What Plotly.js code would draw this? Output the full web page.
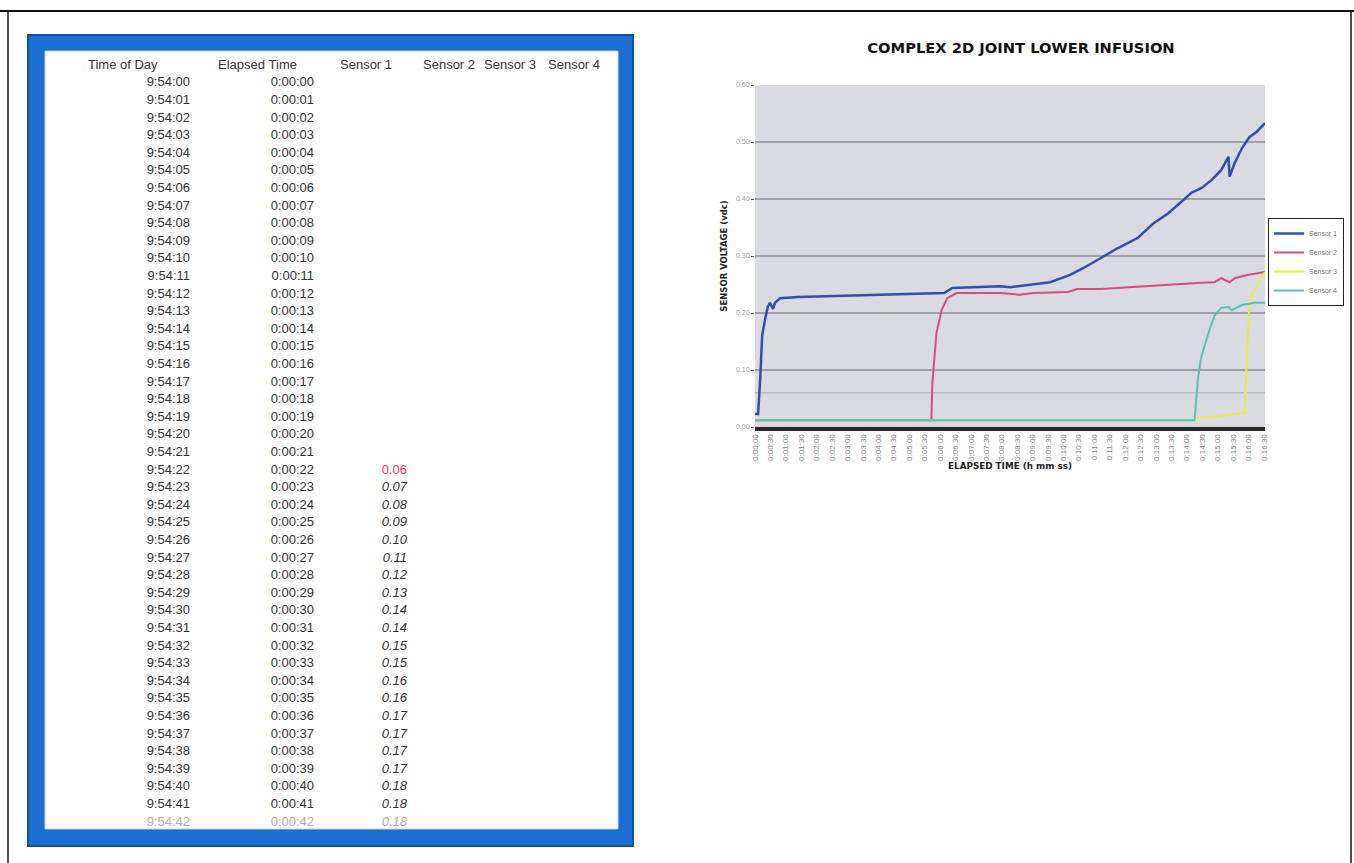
<!DOCTYPE html>
<html>
<head>
<meta charset="utf-8">
<script src="https://cdn.plot.ly/plotly-3.0.1.min.js"></script>
<style>html,body{margin:0;padding:0;background:#fff;}#chart{width:1354px;height:863px;}</style>
</head>
<body>
<div id="chart"></div>
<script>
// ---------------- table data ----------------
const tableHeaders = ['Time of Day', 'Elapsed Time', 'Sensor 1', 'Sensor 2', 'Sensor 3', 'Sensor 4'];
const timeOfDay = ['9:54:00','9:54:01','9:54:02','9:54:03','9:54:04','9:54:05','9:54:06','9:54:07','9:54:08','9:54:09',
  '9:54:10','9:54:11','9:54:12','9:54:13','9:54:14','9:54:15','9:54:16','9:54:17','9:54:18','9:54:19',
  '9:54:20','9:54:21','9:54:22','9:54:23','9:54:24','9:54:25','9:54:26','9:54:27','9:54:28','9:54:29',
  '9:54:30','9:54:31','9:54:32','9:54:33','9:54:34','9:54:35','9:54:36','9:54:37','9:54:38','9:54:39',
  '9:54:40','9:54:41','9:54:42'];
const elapsedTime = ['0:00:00','0:00:01','0:00:02','0:00:03','0:00:04','0:00:05','0:00:06','0:00:07','0:00:08','0:00:09',
  '0:00:10','0:00:11','0:00:12','0:00:13','0:00:14','0:00:15','0:00:16','0:00:17','0:00:18','0:00:19',
  '0:00:20','0:00:21','0:00:22','0:00:23','0:00:24','0:00:25','0:00:26','0:00:27','0:00:28','0:00:29',
  '0:00:30','0:00:31','0:00:32','0:00:33','0:00:34','0:00:35','0:00:36','0:00:37','0:00:38','0:00:39',
  '0:00:40','0:00:41','0:00:42'];
const sensor1Table = [null,null,null,null,null,null,null,null,null,null,
  null,null,null,null,null,null,null,null,null,null,
  null,null,0.06,0.07,0.08,0.09,0.10,0.11,0.12,0.13,
  0.14,0.14,0.15,0.15,0.16,0.16,0.17,0.17,0.17,0.17,
  0.18,0.18,0.18];
const sensor2Table = [];
const sensor3Table = [];
const sensor4Table = [];

// ---------------- chart data (elapsed seconds, volts) ----------------
const s1Time = [0, 6, 10, 14, 20, 25, 29, 35, 39, 49, 84, 130, 182, 230, 280, 330, 368, 384, 430, 476, 496, 535, 574, 613, 639, 672, 706, 745, 776, 804, 829, 849, 868, 888, 907, 921, 923, 933, 947, 962, 976, 992];
const s1Volt = [0.023, 0.023, 0.082, 0.161, 0.191, 0.211, 0.218, 0.207, 0.218, 0.226, 0.228, 0.229, 0.230, 0.231, 0.233, 0.234, 0.235, 0.244, 0.245, 0.247, 0.245, 0.250, 0.254, 0.267, 0.279, 0.296, 0.314, 0.332, 0.358, 0.375, 0.395, 0.411, 0.419, 0.433, 0.451, 0.474, 0.439, 0.463, 0.489, 0.509, 0.518, 0.533];
const s2Time = [0, 343, 345, 353, 363, 374, 392, 443, 476, 515, 541, 608, 627, 672, 737, 804, 868, 894, 907, 923, 933, 960, 992];
const s2Volt = [0.012, 0.012, 0.077, 0.165, 0.205, 0.226, 0.235, 0.235, 0.235, 0.232, 0.235, 0.237, 0.242, 0.242, 0.246, 0.249, 0.253, 0.254, 0.261, 0.254, 0.261, 0.267, 0.272];
const s3Time = [0, 855, 862, 901, 952, 962, 976, 992];
const s3Volt = [0.012, 0.012, 0.016, 0.019, 0.025, 0.223, 0.249, 0.272];
const s4Time = [0, 855, 862, 868, 882, 894, 907, 921, 927, 947, 972, 992];
const s4Volt = [0.012, 0.012, 0.088, 0.123, 0.165, 0.196, 0.209, 0.211, 0.205, 0.214, 0.218, 0.218];
const seriesNames = ['Sensor 1', 'Sensor 2', 'Sensor 3', 'Sensor 4'];
const seriesColors = ['#2f4fae', '#dc4a7c', '#e6ee3a', '#55c3b4'];
const xTickLabels = ['0:00:00','0:00:30','0:01:00','0:01:30','0:02:00','0:02:30','0:03:00','0:03:30','0:04:00','0:04:30',
  '0:05:00','0:05:30','0:06:00','0:06:30','0:07:00','0:07:30','0:08:00','0:08:30','0:09:00','0:09:30',
  '0:10:00','0:10:30','0:11:00','0:11:30','0:12:00','0:12:30','0:13:00','0:13:30','0:14:00','0:14:30',
  '0:15:00','0:15:30','0:16:00','0:16:30'];
const refLevel = 0.06;

// ---------------- helpers ----------------
const W = 1354, H = 863;
const px = x => x / W;
const py = y => 1 - y / H;
const toSec = s => { const p = s.split(':').map(Number); return p[0]*3600 + p[1]*60 + p[2]; };
const xTickVals = xTickLabels.map(toSec);
const nb = s => s.replace(/ /g, '\u00a0');   // keep headers on one line

const nRows = timeOfDay.length;
const pad = arr => timeOfDay.map((_, i) => (arr[i] === undefined || arr[i] === null) ? '' : String(arr[i]));
const firstIdx = sensor1Table.findIndex(v => v !== null);
const s1Disp = sensor1Table.map(v => v === null ? '' : v.toFixed(2));
const blank = timeOfDay.map(() => '');

const baseColor = '#333333', fadeColor = '#b0b0b0', redColor = '#e0395f';
const colColors = (special) => timeOfDay.map((_, i) => i === nRows - 1 ? fadeColor : (special && i === firstIdx ? redColor : baseColor));
const colStyle = (special) => timeOfDay.map((_, i) => (special && i !== firstIdx) ? 'italic' : 'normal');
const clear = 'rgba(255,255,255,0)';

const tableTrace = {
  type: 'table',
  domain: {x: [px(80), px(615)], y: [py(828.5), py(51)]},
  columnwidth: [118, 12, 112, 10, 83, 61, 64, 75],
  header: {
    values: [nb(tableHeaders[0]), '', nb(tableHeaders[1]), '', nb(tableHeaders[2]), nb(tableHeaders[3]), nb(tableHeaders[4]), nb(tableHeaders[5])],
    align: 'left', height: 17.6,
    fill: {color: clear}, line: {width: 0, color: clear},
    font: {family: 'Liberation Sans, Arial, sans-serif', size: 13, color: baseColor}
  },
  cells: {
    values: [timeOfDay, blank, elapsedTime, blank, s1Disp, pad(sensor2Table), pad(sensor3Table), pad(sensor4Table)],
    align: ['right', 'right', 'right', 'right', 'right', 'left', 'left', 'left'],
    height: 17.6,
    fill: {color: clear}, line: {width: 0, color: clear},
    font: {family: 'Liberation Sans, Arial, sans-serif', size: 13,
      color: [colColors(false), colColors(false), colColors(false), colColors(false), colColors(true), colColors(false), colColors(false), colColors(false)],
      style: [colStyle(false), colStyle(false), colStyle(false), colStyle(false), colStyle(true), colStyle(false), colStyle(false), colStyle(false)]}
  }
};

const lineTraces = [[s1Time, s1Volt], [s2Time, s2Volt], [s3Time, s3Volt], [s4Time, s4Volt]].map((d, k) => ({
  type: 'scatter', mode: 'lines', name: seriesNames[k], x: d[0], y: d[1],
  line: {color: seriesColors[k], width: k === 0 ? 2.5 : 2}
}));

const boldFont = 'DejaVu Sans, Liberation Sans, Arial, sans-serif';

const layout = {
  width: W, height: H,
  margin: {l: 0, r: 0, t: 0, b: 0},
  paper_bgcolor: '#ffffff', plot_bgcolor: '#dadae2',
  font: {family: 'Liberation Sans, Arial, sans-serif'},
  title: {text: 'COMPLEX 2D JOINT LOWER INFUSION', x: px(1021), xanchor: 'center', y: py(48), yanchor: 'middle',
    font: {family: boldFont, size: 14.7, weight: 'bold', color: '#111'}},
  xaxis: {domain: [px(755), px(1265)], range: [0, 992], tickvals: xTickVals, ticktext: xTickLabels,
    tickangle: -90, tickfont: {size: 8, color: '#888'}, showgrid: false, zeroline: false,
    showline: true, linewidth: 4, linecolor: '#2a2a2a', ticks: '',
    title: {text: 'ELAPSED TIME (h mm ss)', font: {family: boldFont, size: 8.8, weight: 'bold', color: '#222'}, standoff: 4}},
  yaxis: {domain: [py(427), py(85)], range: [0, 0.6], dtick: 0.1, tickformat: '.2f',
    tickfont: {size: 7, color: '#a0a0a0'}, gridcolor: '#a0a0a8', gridwidth: 1.3, zeroline: false,
    ticks: 'outside', ticklen: 3, tickcolor: '#666',
    title: {text: 'SENSOR VOLTAGE (vdc)', font: {family: boldFont, size: 8.5, weight: 'bold', color: '#222'}, standoff: 6}},
  legend: {x: px(1268), xanchor: 'left', y: py(218), yanchor: 'top', bgcolor: '#ffffff',
    bordercolor: '#222', borderwidth: 1, font: {size: 7, color: '#777'}},
  shapes: [
    // page border
    {type: 'line', xref: 'paper', yref: 'paper', x0: 0, x1: 1, y0: py(11), y1: py(11), line: {color: '#111', width: 2}},
    {type: 'line', xref: 'paper', yref: 'paper', x0: px(8), x1: px(8), y0: py(11), y1: 0, line: {color: '#111', width: 1.5}},
    {type: 'line', xref: 'paper', yref: 'paper', x0: px(1351), x1: px(1351), y0: py(11), y1: 0, line: {color: '#111', width: 1.5}},
    // blue frame around the table
    {type: 'rect', xref: 'paper', yref: 'paper', layer: 'below', x0: px(28), x1: px(633), y0: py(846), y1: py(35),
      fillcolor: '#1a6fd3', line: {color: '#0f4fa5', width: 2}},
    {type: 'rect', xref: 'paper', yref: 'paper', layer: 'below', x0: px(45), x1: px(618), y0: py(829), y1: py(51),
      fillcolor: '#ffffff', line: {color: '#c8d4e4', width: 1}},
    // faint reference line inside the chart
    {type: 'line', xref: 'x', yref: 'y', layer: 'below', x0: 0, x1: 992, y0: refLevel, y1: refLevel,
      line: {color: '#a8a8b0', width: 1}}
  ]
};

Plotly.newPlot('chart', [tableTrace].concat(lineTraces), layout, {displayModeBar: false, staticPlot: true});
</script>
</body>
</html>
